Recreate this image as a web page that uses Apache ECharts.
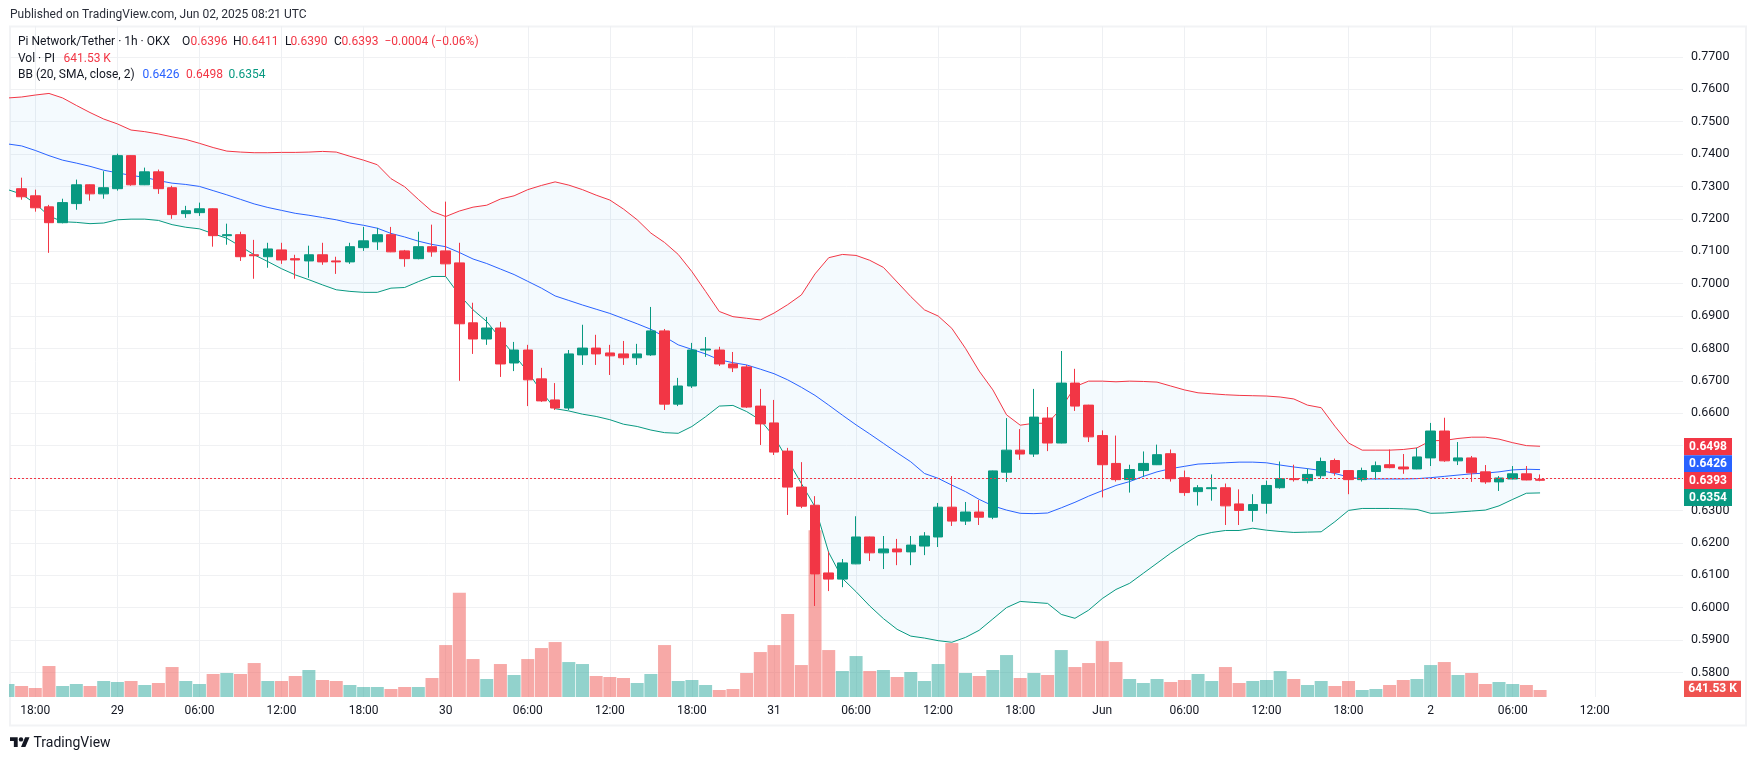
<!DOCTYPE html>
<html>
<head>
<meta charset="utf-8">
<title>PIUSDT 1h</title>
<style>
  html, body { margin: 0; padding: 0; background: #fff; }
  #main { width: 1755px; height: 760px; }
</style>
<script src="https://cdn.jsdelivr.net/npm/echarts@6/dist/echarts.min.js"></script>
</head>
<body>
<div id="main"></div>
<script>
// candles, one per hour from 2025-05-28 17:00 UTC
const opens = [
  0.7293, 0.7271, 0.7237, 0.7188, 0.7247, 0.7305, 0.7277, 0.7293, 0.7395, 0.7305,
  0.7345, 0.7296, 0.7216, 0.7219, 0.7231, 0.7148, 0.7151, 0.7089, 0.7083, 0.7104,
  0.7077, 0.7070, 0.7089, 0.7070, 0.7067, 0.7111, 0.7129, 0.7151, 0.7101, 0.7077,
  0.7114, 0.7101, 0.7064, 0.6879, 0.6829, 0.6863, 0.6755, 0.6795, 0.6706, 0.6641,
  0.6616, 0.6780, 0.6801, 0.6786, 0.6783, 0.6771, 0.6780, 0.6854, 0.6628, 0.6684,
  0.6795, 0.6795, 0.6752, 0.6743, 0.6622, 0.6570, 0.6483, 0.6372, 0.6316, 0.6107,
  0.6088, 0.6135, 0.6218, 0.6169, 0.6181, 0.6172, 0.6190, 0.6218, 0.6310, 0.6267,
  0.6295, 0.6279, 0.6418, 0.6486, 0.6474, 0.6585, 0.6508, 0.6693, 0.6625, 0.6531,
  0.6445, 0.6395, 0.6423, 0.6441, 0.6475, 0.6401, 0.6358, 0.6367, 0.6370, 0.6320,
  0.6300, 0.6322, 0.6370, 0.6398, 0.6392, 0.6407, 0.6454, 0.6423, 0.6395, 0.6420,
  0.6441, 0.6434, 0.6428, 0.6462, 0.6545, 0.6453, 0.6462, 0.6419, 0.6388, 0.6397,
  0.6413, 0.6396
]
const highs = [
  0.7327, 0.7290, 0.7243, 0.7262, 0.7321, 0.7306, 0.7347, 0.7401, 0.7396, 0.7358,
  0.7352, 0.7302, 0.7240, 0.7250, 0.7232, 0.7185, 0.7160, 0.7135, 0.7126, 0.7126,
  0.7089, 0.7117, 0.7126, 0.7083, 0.7126, 0.7175, 0.7172, 0.7175, 0.7104, 0.7160,
  0.7182, 0.7253, 0.7126, 0.6941, 0.6897, 0.6882, 0.6820, 0.6811, 0.6740, 0.6693,
  0.6795, 0.6873, 0.6842, 0.6811, 0.6823, 0.6814, 0.6928, 0.6860, 0.6709, 0.6817,
  0.6835, 0.6805, 0.6789, 0.6749, 0.6675, 0.6641, 0.6493, 0.6449, 0.6344, 0.6173,
  0.6150, 0.6282, 0.6219, 0.6221, 0.6212, 0.6221, 0.6233, 0.6323, 0.6406, 0.6326,
  0.6332, 0.6423, 0.6585, 0.6551, 0.6675, 0.6619, 0.6792, 0.6737, 0.6626, 0.6547,
  0.6531, 0.6441, 0.6482, 0.6503, 0.6488, 0.6423, 0.6378, 0.6411, 0.6383, 0.6365,
  0.6350, 0.6392, 0.6451, 0.6441, 0.6429, 0.6463, 0.6460, 0.6424, 0.6432, 0.6451,
  0.6488, 0.6474, 0.6493, 0.6570, 0.6586, 0.6511, 0.6468, 0.6440, 0.6406, 0.6437,
  0.6437, 0.6411
]
const lows = [
  0.7259, 0.7222, 0.7095, 0.7186, 0.7228, 0.7256, 0.7262, 0.7287, 0.7302, 0.7304,
  0.7277, 0.7200, 0.7203, 0.7209, 0.7114, 0.7120, 0.7070, 0.7015, 0.7049, 0.7061,
  0.7015, 0.7018, 0.7058, 0.7030, 0.7061, 0.7101, 0.7104, 0.7097, 0.7052, 0.7075,
  0.7083, 0.7022, 0.6700, 0.6783, 0.6811, 0.6712, 0.6730, 0.6622, 0.6635, 0.6610,
  0.6610, 0.6749, 0.6749, 0.6718, 0.6749, 0.6749, 0.6777, 0.6610, 0.6622, 0.6678,
  0.6774, 0.6746, 0.6727, 0.6616, 0.6502, 0.6471, 0.6286, 0.6307, 0.6005, 0.6051,
  0.6063, 0.6134, 0.6144, 0.6119, 0.6131, 0.6131, 0.6162, 0.6187, 0.6252, 0.6255,
  0.6255, 0.6273, 0.6388, 0.6456, 0.6465, 0.6483, 0.6507, 0.6607, 0.6511, 0.6340,
  0.6389, 0.6355, 0.6404, 0.6440, 0.6389, 0.6345, 0.6315, 0.6330, 0.6255, 0.6255,
  0.6265, 0.6290, 0.6367, 0.6389, 0.6383, 0.6398, 0.6407, 0.6350, 0.6389, 0.6395,
  0.6430, 0.6413, 0.6427, 0.6437, 0.6450, 0.6440, 0.6388, 0.6382, 0.6360, 0.6396,
  0.6393, 0.6390
]
const closes = [
  0.7268, 0.7234, 0.7188, 0.7250, 0.7305, 0.7277, 0.7296, 0.7395, 0.7305, 0.7345,
  0.7293, 0.7213, 0.7225, 0.7231, 0.7148, 0.7151, 0.7083, 0.7086, 0.7107, 0.7073,
  0.7073, 0.7089, 0.7067, 0.7067, 0.7114, 0.7132, 0.7151, 0.7098, 0.7077, 0.7114,
  0.7098, 0.7061, 0.6876, 0.6829, 0.6863, 0.6752, 0.6795, 0.6703, 0.6638, 0.6616,
  0.6783, 0.6801, 0.6783, 0.6777, 0.6771, 0.6783, 0.6854, 0.6628, 0.6684, 0.6795,
  0.6798, 0.6752, 0.6740, 0.6619, 0.6567, 0.6480, 0.6372, 0.6313, 0.6104, 0.6088,
  0.6138, 0.6218, 0.6169, 0.6181, 0.6172, 0.6193, 0.6221, 0.6310, 0.6267, 0.6295,
  0.6279, 0.6422, 0.6486, 0.6474, 0.6588, 0.6508, 0.6693, 0.6622, 0.6527, 0.6441,
  0.6395, 0.6426, 0.6445, 0.6472, 0.6398, 0.6355, 0.6370, 0.6370, 0.6314, 0.6300,
  0.6318, 0.6377, 0.6398, 0.6395, 0.6411, 0.6451, 0.6417, 0.6395, 0.6423, 0.6438,
  0.6432, 0.6428, 0.6465, 0.6545, 0.6453, 0.6462, 0.6416, 0.6388, 0.6400, 0.6413,
  0.6394, 0.6393
]

// volume and bands start one hour earlier, 16:00 (that candle is cut off by the frame)
const volumes = [
  1190, 1007, 824, 2837, 1007, 1190, 1007, 1464, 1373, 1464, 1098,
  1281, 2745, 1464, 1190, 2105, 2196, 2105, 3111, 1464, 1464,
  1922, 2471, 1556, 1464, 1098, 915, 915, 732, 915, 915,
  1739, 4758, 9547, 3477, 1647, 3020, 2013, 3477, 4484, 5033,
  3203, 3020, 1922, 1830, 1739, 1281, 2105, 4758, 1464, 1556,
  1098, 641, 732, 2196, 4118, 4758, 7595, 2928, 15281, 4301,
  2379, 3752, 2379, 2471, 1830, 2288, 1464, 3020, 4941, 2196,
  1922, 2471, 3843, 1739, 2196, 2013, 4301, 2745, 3111, 5124,
  3203, 1647, 1281, 1647, 1373, 1556, 2105, 1464, 2745, 1281,
  1464, 1556, 2379, 1647, 1098, 1464, 1007, 1464, 641, 732,
  1098, 1556, 1647, 2928, 3203, 2013, 2196, 1190, 1373, 1190,
  1098, 641.53
]
const bbUpper = [
  0.7573,
  0.7576, 0.7582, 0.7587, 0.7573, 0.7550, 0.7528, 0.7508, 0.7493, 0.7474, 0.7469,
  0.7462, 0.7453, 0.7445, 0.7433, 0.7420, 0.7409, 0.7406, 0.7404, 0.7404, 0.7405,
  0.7405, 0.7406, 0.7408, 0.7406, 0.7393, 0.7381, 0.7367, 0.7324, 0.7299, 0.7260,
  0.7223, 0.7207, 0.7224, 0.7236, 0.7242, 0.7261, 0.7271, 0.7290, 0.7303, 0.7314,
  0.7304, 0.7290, 0.7273, 0.7258, 0.7230, 0.7197, 0.7156, 0.7127, 0.7090, 0.7037,
  0.6976, 0.6914, 0.6898, 0.6893, 0.6888, 0.6909, 0.6935, 0.6965, 0.7030, 0.7080,
  0.7090, 0.7087, 0.7072, 0.7050, 0.7005, 0.6960, 0.6919, 0.6900, 0.6862, 0.6800,
  0.6730, 0.6672, 0.6595, 0.6563, 0.6569, 0.6569, 0.6615, 0.6682, 0.6699, 0.6699,
  0.6697, 0.6699, 0.6698, 0.6696, 0.6684, 0.6672, 0.6663, 0.6660, 0.6657, 0.6655,
  0.6654, 0.6653, 0.6650, 0.6644, 0.6625, 0.6617, 0.6560, 0.6508, 0.6486, 0.6486,
  0.6486, 0.6488, 0.6493, 0.6515, 0.6516, 0.6522, 0.6526, 0.6526, 0.6520, 0.6509,
  0.6500, 0.6498
]
const bbBasis = [
  0.7431,
  0.7425, 0.7411, 0.7395, 0.7381, 0.7372, 0.7362, 0.7350, 0.7342, 0.7334, 0.7328,
  0.7318, 0.7310, 0.7306, 0.7300, 0.7287, 0.7274, 0.7260, 0.7246, 0.7235, 0.7226,
  0.7217, 0.7211, 0.7204, 0.7197, 0.7187, 0.7180, 0.7171, 0.7155, 0.7144, 0.7131,
  0.7121, 0.7114, 0.7096, 0.7076, 0.7062, 0.7045, 0.7028, 0.7007, 0.6986, 0.6962,
  0.6948, 0.6934, 0.6921, 0.6908, 0.6892, 0.6876, 0.6859, 0.6836, 0.6811, 0.6797,
  0.6783, 0.6765, 0.6756, 0.6749, 0.6736, 0.6722, 0.6703, 0.6680, 0.6655, 0.6625,
  0.6594, 0.6564, 0.6536, 0.6507, 0.6478, 0.6450, 0.6414, 0.6399, 0.6378, 0.6358,
  0.6334, 0.6314, 0.6301, 0.6291, 0.6290, 0.6292, 0.6308, 0.6325, 0.6344, 0.6361,
  0.6377, 0.6389, 0.6405, 0.6419, 0.6429, 0.6436, 0.6443, 0.6445, 0.6447, 0.6449,
  0.6449, 0.6447, 0.6440, 0.6434, 0.6429, 0.6423, 0.6414, 0.6403, 0.6397, 0.6397,
  0.6397, 0.6397, 0.6398, 0.6401, 0.6405, 0.6409, 0.6413, 0.6415, 0.6419, 0.6425,
  0.6427, 0.6426
]
const bbLower = [
  0.7290,
  0.7276, 0.7247, 0.7209, 0.7191, 0.7189, 0.7185, 0.7187, 0.7197, 0.7199, 0.7199,
  0.7195, 0.7182, 0.7174, 0.7169, 0.7154, 0.7140, 0.7115, 0.7089, 0.7068, 0.7046,
  0.7027, 0.7012, 0.6996, 0.6981, 0.6976, 0.6973, 0.6973, 0.6986, 0.6988, 0.7006,
  0.7022, 0.7022, 0.6965, 0.6919, 0.6883, 0.6831, 0.6780, 0.6728, 0.6667, 0.6614,
  0.6607, 0.6597, 0.6590, 0.6580, 0.6566, 0.6559, 0.6548, 0.6540, 0.6538, 0.6559,
  0.6589, 0.6622, 0.6624, 0.6605, 0.6579, 0.6528, 0.6456, 0.6383, 0.6311, 0.6170,
  0.6090, 0.6049, 0.6005, 0.5966, 0.5933, 0.5912, 0.5906, 0.5898, 0.5893, 0.5908,
  0.5930, 0.5965, 0.6000, 0.6019, 0.6016, 0.6013, 0.5979, 0.5967, 0.5992, 0.6028,
  0.6056, 0.6075, 0.6106, 0.6137, 0.6168, 0.6196, 0.6222, 0.6232, 0.6238, 0.6238,
  0.6245, 0.6239, 0.6235, 0.6232, 0.6233, 0.6234, 0.6265, 0.6300, 0.6306, 0.6306,
  0.6306, 0.6305, 0.6303, 0.6291, 0.6292, 0.6295, 0.6298, 0.6301, 0.6314, 0.6334,
  0.6353, 0.6354
]

// axis ticks. x positions count hours from 2025-05-28 16:00 UTC
const priceTicks = [0.58, 0.59, 0.60, 0.61, 0.62, 0.63, 0.64, 0.65, 0.66, 0.67, 0.68, 0.69, 0.70, 0.71, 0.72, 0.73, 0.74, 0.75, 0.76, 0.77]
const tickHours = [2, 8, 14, 20, 26, 32, 38, 44, 50, 56, 62, 68, 74, 80, 86, 92, 98, 104, 110, 116]
const timeLabels = [
  '18:00', '29', '06:00', '12:00', '18:00', '30', '06:00', '12:00', '18:00', '31', '06:00', '12:00',
  '18:00', 'Jun', '06:00', '12:00', '18:00', '2', '06:00', '12:00'
]

const lastPrice = closes[closes.length - 1]

const UP = '#089981'
const DOWN = '#f23645'
const VOL_UP = 'rgba(38,166,154,0.5)'
const VOL_DOWN = 'rgba(239,83,80,0.5)'
const BLUE = '#2962ff'
const INK = '#131722'
const FONT = 'Roboto, sans-serif'

const candleData = opens.map((o, i) => [i + 1, o, closes[i], lows[i], highs[i]])
const volumeData = volumes.map((v, i) => {
  const rising = i === 0 || closes[i - 1] >= opens[i - 1]
  return { value: [i, v], itemStyle: { color: rising ? VOL_UP : VOL_DOWN } }
})
const band = arr => arr.map((v, i) => [i, v])

// shaded area between the upper and lower band, one polygon
function renderBandFill (params, api) {
  if (params.dataIndex !== 0) return null
  const points = band(bbUpper).concat(band(bbLower).reverse()).map(p => api.coord(p))
  return { type: 'polygon', shape: { points: points }, style: { fill: 'rgba(33,150,243,0.05)' } }
}

// text helper for the header and legend rows
function label (text, x, y, fill, size) {
  return {
    type: 'text',
    z: 50,
    style: { text: text, x: x, y: y, fill: fill || INK, font: (size || 12) + 'px ' + FONT, textVerticalAlign: 'middle' }
  }
}
// price tag on the right of the axis
function tag (text, y0, y1, x1, color) {
  return [
    { type: 'rect', z: 49, shape: { x: 1684, y: y0, width: x1 - 1684, height: y1 - y0 }, style: { fill: color } },
    { type: 'text', z: 50, style: { text: text, x: (1684 + x1) / 2, y: (y0 + y1) / 2 + 0.5, fill: '#fff', font: 'bold 12px ' + FONT, textAlign: 'center', textVerticalAlign: 'middle' } }
  ]
}

const chart = echarts.init(document.getElementById('main'))
chart.setOption({
  animation: false,
  backgroundColor: '#fff',
  grid: { left: 10, right: 72, top: 26, bottom: 63 },
  xAxis: {
    type: 'value',
    min: 0.151,
    max: 122.45,
    axisLine: { show: false },
    axisTick: { show: false, customValues: tickHours },
    splitLine: { show: true, lineStyle: { color: '#eef0f3', width: 1 } },
    axisLabel: {
      customValues: tickHours,
      margin: 8,
      color: INK,
      fontFamily: 'Roboto',
      fontSize: 12,
      formatter: value => timeLabels[tickHours.indexOf(value)]
    }
  },
  yAxis: [
    {
      type: 'value',
      position: 'right',
      min: 0.57241,
      max: 0.77951,
      axisLine: { show: false },
      axisTick: { show: false, customValues: priceTicks },
      splitLine: { show: true, lineStyle: { color: '#f0f1f3', width: 1 } },
      axisLabel: {
        customValues: priceTicks,
        margin: 8,
        color: INK,
        fontFamily: 'Roboto',
        fontSize: 12.5,
        formatter: value => value.toFixed(4)
      }
    },
    { type: 'value', min: 0, max: 61464, show: false, splitLine: { show: false } }
  ],
  series: [
    {
      name: 'Vol',
      type: 'bar',
      yAxisIndex: 1,
      barWidth: 13,
      clip: true,
      z: 1,
      data: volumeData
    },
    {
      name: 'BB fill',
      type: 'custom',
      clip: true,
      silent: true,
      z: 2,
      renderItem: renderBandFill,
      encode: { x: 0, y: 1 },
      data: band(bbUpper)
    },
    {
      name: 'BB lower',
      type: 'line',
      symbol: 'none',
      z: 3,
      lineStyle: { color: UP, width: 1 },
      data: band(bbLower)
    },
    {
      name: 'BB upper',
      type: 'line',
      symbol: 'none',
      z: 3,
      lineStyle: { color: DOWN, width: 1 },
      data: band(bbUpper),
      markLine: {
        silent: true,
        symbol: 'none',
        label: { show: false },
        lineStyle: { color: DOWN, type: [2, 2], width: 1 },
        data: [{ yAxis: lastPrice }]
      }
    },
    {
      name: 'BB basis',
      type: 'line',
      symbol: 'none',
      z: 3,
      lineStyle: { color: BLUE, width: 1 },
      data: band(bbBasis)
    },
    {
      name: 'PIUSDT',
      type: 'candlestick',
      barWidth: 10,
      z: 4,
      itemStyle: { color: UP, color0: DOWN, borderColor: UP, borderColor0: DOWN, borderWidth: 1 },
      data: candleData
    }
  ],
  graphic: [
    // outer frame
    { type: 'rect', z: 0, shape: { x: 10, y: 26.5, width: 1736, height: 699 }, style: { fill: 'none', stroke: '#f2f3f5', lineWidth: 2 } },
    // bar clipping does not apply on a value x axis, hide the part of the first bar left of the frame
    { type: 'rect', z: 48, shape: { x: 0, y: 600, width: 9, height: 110 }, style: { fill: '#fff' } },
    label('Published on TradingView.com, Jun 02, 2025 08:21 UTC', 10, 14.5, '#2a2e39'),
    label('Pi Network/Tether · 1h · OKX', 18, 41.5),
    label('O', 182, 41.5), label('0.6396', 190.5, 41.5, DOWN),
    label('H', 233, 41.5), label('0.6411', 241.5, 41.5, DOWN),
    label('L', 285, 41.5), label('0.6390', 290.5, 41.5, DOWN),
    label('C', 334, 41.5), label('0.6393', 341.5, 41.5, DOWN),
    label('−0.0004 (−0.06%)', 384.5, 41.5, DOWN),
    label('Vol · PI', 18, 58.5),
    label('641.53 K', 63.5, 58.5, DOWN),
    label('BB (20, SMA, close, 2)', 18, 75),
    label('0.6426', 142.5, 75, BLUE),
    label('0.6498', 186, 75, DOWN),
    label('0.6354', 228.5, 75, UP),
    ...tag('0.6498', 438, 455.3, 1732, DOWN),
    ...tag('0.6426', 455.3, 472, 1732, BLUE),
    ...tag('0.6393', 472, 489, 1732, DOWN),
    ...tag('0.6354', 489, 506, 1732, UP),
    ...tag('641.53 K', 680.7, 697, 1741, '#ef5350'),
    // TradingView logo
    {
      type: 'group',
      x: 10,
      y: 735,
      scaleX: 0.55,
      scaleY: 0.55,
      children: [
        { type: 'polygon', z: 50, shape: { points: [[0, 4], [14, 4], [14, 22], [7, 22], [7, 11], [0, 11]] }, style: { fill: INK } },
        { type: 'polygon', z: 50, shape: { points: [[27.5, 4], [35.5, 4], [28, 22], [20, 22]] }, style: { fill: INK } },
        { type: 'circle', z: 50, shape: { cx: 20, cy: 8, r: 4 }, style: { fill: INK } }
      ]
    },
    label('TradingView', 33.5, 743, INK, 14)
  ]
})
</script>
</body>
</html>
